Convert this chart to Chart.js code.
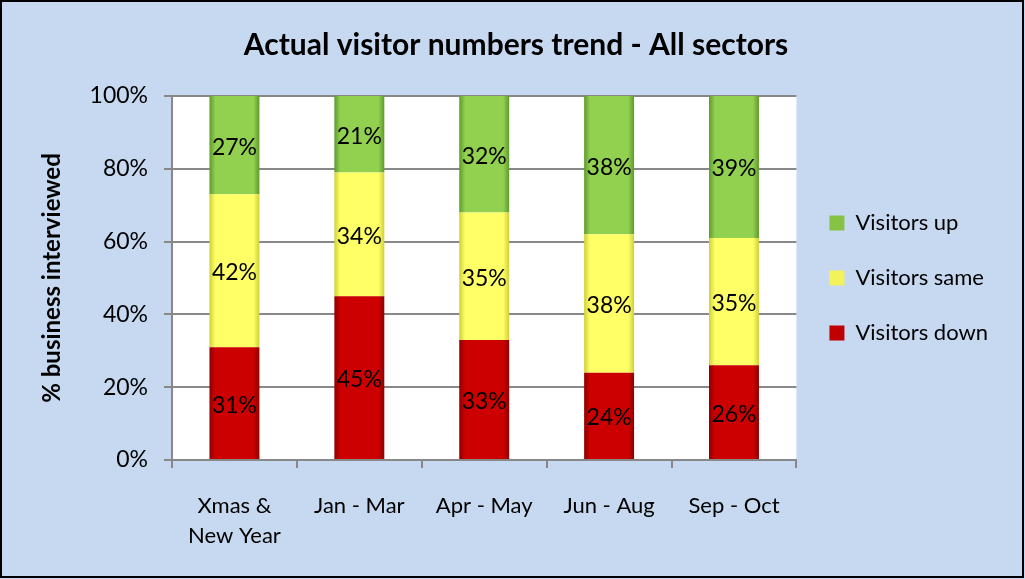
<!DOCTYPE html>
<html>
<head>
<meta charset="utf-8">
<script src="https://cdn.jsdelivr.net/npm/chart.js@4"></script>
<style>
  html, body { margin: 0; padding: 0; background: #fff; }
  #wrap { width: 1025px; height: 579px; position: relative; }
</style>
</head>
<body>
<div id="wrap"><canvas id="trendChart" width="1025" height="579"></canvas></div>
<script>
// Values
const periods = [['Xmas &', 'New Year'], 'Jan - Mar', 'Apr - May', 'Jun - Aug', 'Sep - Oct'];
const visitorsDown = [31, 45, 33, 24, 26];
const visitorsSame = [42, 34, 35, 38, 35];
const visitorsUp = [27, 21, 32, 38, 39];
const yTicks = [0, 20, 40, 60, 80, 100];

const FONT = "Lato, 'Open Sans', sans-serif";
// legend swatch colours, same order as datasets (down, same, up)
const swatchColors = ['#C00000', '#F2F25A', '#86C244'];

// cylinder-ish horizontal gradient across each bar
function barFill(edge, mid) {
    return function(context) {
        const chart = context.chart;
        const area = chart.chartArea;
        const xScale = chart.scales.x;
        if (!area || !xScale || context.type !== 'data') return mid;
        const cx = xScale.getPixelForValue(context.dataIndex);
        const w = (area.right - area.left) / periods.length * 0.4;
        const g = chart.ctx.createLinearGradient(cx - w / 2, 0, cx + w / 2, 0);
        g.addColorStop(0, edge);
        g.addColorStop(0.12, mid);
        g.addColorStop(0.88, mid);
        g.addColorStop(1, edge);
        return g;
    };
}

const backgroundPlugin = {
    id: 'backgroundPlugin',
    beforeDraw(chart) {
        const ctx = chart.ctx;
        ctx.save();
        ctx.fillStyle = '#C6D9F1';
        ctx.fillRect(0, 0, chart.width, chart.height);
        const a = chart.chartArea;
        ctx.fillStyle = '#ffffff';
        ctx.fillRect(a.left, a.top, a.right - a.left, a.bottom - a.top);
        ctx.restore();
    },
    afterDraw(chart) {
        const ctx = chart.ctx;
        ctx.save();
        ctx.strokeStyle = '#000000';
        ctx.lineWidth = 2;
        ctx.strokeRect(1, 1, chart.width - 3, chart.height - 3);
        ctx.restore();
    }
};

// percentage labels in the middle of each segment
const segmentLabels = {
    id: 'segmentLabels',
    afterDatasetsDraw(chart) {
        const ctx = chart.ctx;
        ctx.save();
        ctx.font = '23px ' + FONT;
        ctx.fillStyle = '#000000';
        ctx.textAlign = 'center';
        ctx.textBaseline = 'middle';
        chart.data.datasets.forEach((ds, i) => {
            const meta = chart.getDatasetMeta(i);
            meta.data.forEach((bar, j) => {
                const y = (bar.y + bar.base) / 2 + 2;
                ctx.fillText(ds.data[j] + '%', bar.x, y);
            });
        });
        ctx.restore();
    }
};

const ctx = document.getElementById('trendChart').getContext('2d');
new Chart(ctx, {
    type: 'bar',
    data: {
        labels: periods,
        datasets: [
            {
                label: 'Visitors down',
                data: visitorsDown,
                backgroundColor: barFill('#8E0000', '#CC0000'),
                borderWidth: 0
            },
            {
                label: 'Visitors same',
                data: visitorsSame,
                backgroundColor: barFill('#CFCF3A', '#FFFF66'),
                borderWidth: 0
            },
            {
                label: 'Visitors up',
                data: visitorsUp,
                backgroundColor: barFill('#5E9A2C', '#92D050'),
                borderWidth: 0
            }
        ]
    },
    options: {
        responsive: false,
        animation: false,
        layout: {
            padding: { left: 34, right: 27, top: 0, bottom: 0 }
        },
        datasets: {
            bar: { categoryPercentage: 1.0, barPercentage: 0.4 }
        },
        plugins: {
            title: {
                display: true,
                text: 'Actual visitor numbers trend - All sectors',
                color: '#000000',
                font: { family: FONT, size: 30, weight: 'bold' },
                padding: { top: 27, bottom: 33 }
            },
            legend: {
                position: 'right',
                fullSize: false,
                reverse: true,
                labels: {
                    color: '#000000',
                    font: { family: FONT, size: 22 },
                    boxWidth: 15,
                    boxHeight: 15,
                    padding: 33,
                    generateLabels(chart) {
                        const items = Chart.defaults.plugins.legend.labels.generateLabels(chart);
                        items.forEach(item => {
                            item.fillStyle = swatchColors[item.datasetIndex];
                            item.strokeStyle = swatchColors[item.datasetIndex];
                            item.lineWidth = 0;
                        });
                        return items;
                    }
                }
            },
            tooltip: { enabled: false }
        },
        scales: {
            x: {
                stacked: true,
                grid: {
                    offset: true,
                    drawOnChartArea: false,
                    drawTicks: true,
                    tickLength: 8,
                    color: '#888888',
                    lineWidth: 2
                },
                border: { color: '#888888', width: 2 },
                ticks: {
                    color: '#000000',
                    font: { family: FONT, size: 22, lineHeight: 1.35 },
                    padding: 23,
                    maxRotation: 0
                },
                afterFit(scale) { scale.height = 119; }
            },
            y: {
                stacked: true,
                min: 0,
                max: 100,
                afterBuildTicks(scale) {
                    scale.ticks = yTicks.map(v => ({ value: v }));
                },
                grid: {
                    color: '#888888',
                    lineWidth: 2,
                    tickLength: 8
                },
                border: { color: '#888888', width: 2 },
                ticks: {
                    color: '#000000',
                    font: { family: FONT, size: 23 },
                    padding: 16,
                    callback: v => v + '%'
                },
                title: {
                    display: true,
                    text: '% business interviewed',
                    color: '#000000',
                    font: { family: FONT, size: 24, weight: 'bold' },
                    padding: { top: 4, bottom: 4 }
                },
                afterFit(scale) { scale.width = 172 - 34; }
            }
        }
    },
    plugins: [backgroundPlugin, segmentLabels]
});
</script>
</body>
</html>
